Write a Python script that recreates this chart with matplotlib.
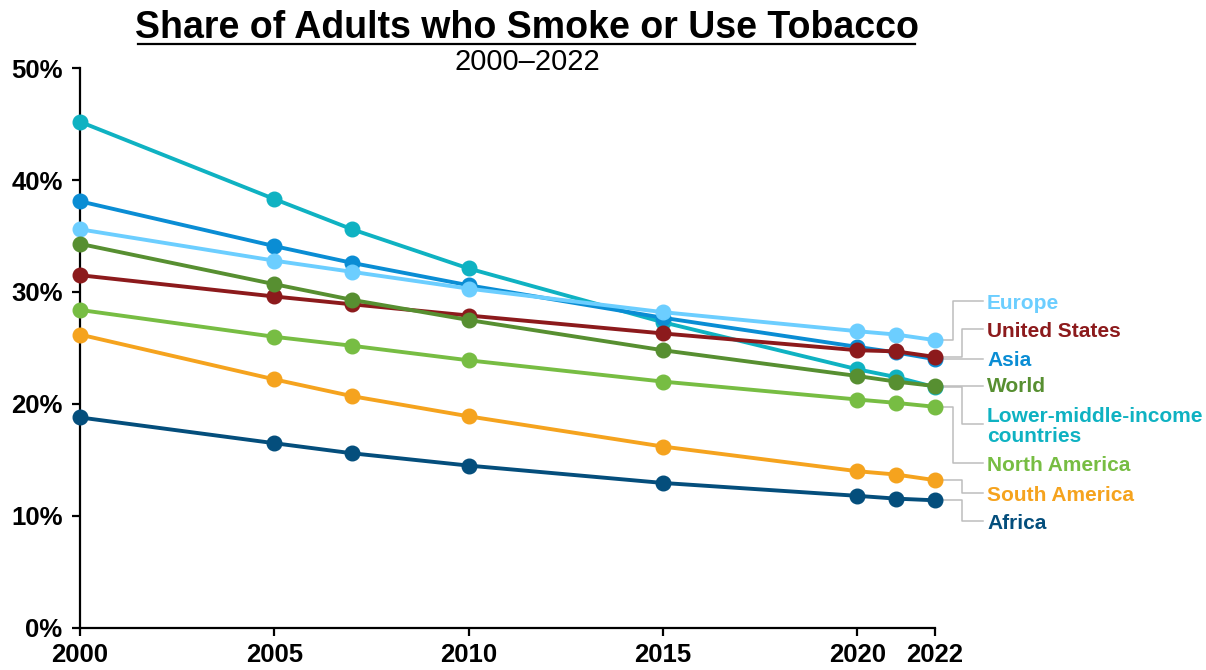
"""
Share of adults who smoke or use tobacco, 2000-2022, by region.
"""

import matplotlib

matplotlib.use("Agg")

import matplotlib.pyplot as plt
from matplotlib.lines import Line2D
from matplotlib.ticker import FuncFormatter


###############################################################################
# Data
###############################################################################

years = [2000, 2005, 2007, 2010, 2015, 2020, 2021, 2022]

lower_middle_income = [45.2, 38.3, 35.6, 32.1, 27.3, 23.1, 22.4, 21.5]
asia = [38.1, 34.1, 32.6, 30.6, 27.7, 25.1, 24.6, 24.0]
europe = [35.6, 32.8, 31.8, 30.3, 28.2, 26.5, 26.2, 25.7]
united_states = [31.5, 29.6, 28.9, 27.9, 26.3, 24.8, 24.7, 24.2]
world = [34.3, 30.7, 29.3, 27.5, 24.8, 22.5, 22.0, 21.6]
north_america = [28.4, 26.0, 25.2, 23.9, 22.0, 20.4, 20.1, 19.75]
south_america = [26.2, 22.2, 20.7, 18.9, 16.2, 14.0, 13.7, 13.2]
africa = [18.8, 16.5, 15.6, 14.5, 12.95, 11.8, 11.55, 11.4]

x_tick_years = [2000, 2005, 2010, 2015, 2020, 2022]


###############################################################################
# Series styling (drawn bottom to top)
# name, values, colour, label y, elbow offset past the last year
###############################################################################

series = [
    ("Lower-middle-income\ncountries", lower_middle_income, "#0FB2C2", 18.2, 0.7),
    ("Asia", asia, "#0A8DD4", 24.1, None),
    ("Europe", europe, "#6CCEFF", 29.2, 0.47),
    ("United States", united_states, "#8C1A1C", 26.7, 0.7),
    ("World", world, "#578F31", 21.8, None),
    ("North America", north_america, "#77BD43", 14.7, 0.47),
    ("South America", south_america, "#F5A31E", 12.05, 0.7),
    ("Africa", africa, "#044E7C", 9.55, 0.7),
]

bold = ["Liberation Sans", "DejaVu Sans"]
narrow = ["Liberation Sans Narrow", "Liberation Sans", "DejaVu Sans"]


###############################################################################
# Figure
###############################################################################

fig = plt.figure(figsize=(12.06, 6.70), dpi=100)

ax = fig.add_axes([0.0663, 0.0627, 0.7090, 0.8358])

last_year = years[-1]

for name, values, color, label_y, elbow in series:

    ax.plot(
        years,
        values,
        color=color,
        linewidth=2.8,
        marker="o",
        markersize=10.5,
        clip_on=False,
        zorder=3,
    )

    end_y = values[-1]
    line_end = last_year + 1.24

    # leader line from the last point to the label
    if elbow is None:
        xs = [last_year + 0.15, line_end]
        ys = [end_y, end_y]
    else:
        xs = [last_year + 0.15, last_year + elbow, last_year + elbow, line_end]
        ys = [end_y, end_y, label_y, label_y]

    ax.plot(
        xs,
        ys,
        color="#BDBDBD",
        linewidth=1.1,
        clip_on=False,
        zorder=1,
    )

    ax.text(
        last_year + 1.34,
        label_y - 0.2,
        name,
        color=color,
        fontsize=15,
        fontweight="bold",
        family=bold,
        va="center",
        ha="left",
        linespacing=1.02,
    )


###############################################################################
# Axes
###############################################################################

ax.set_xlim(2000, 2022)
ax.set_ylim(0, 50)

ax.set_xticks(x_tick_years)
ax.set_yticks(range(0, 51, 10))

ax.yaxis.set_major_formatter(FuncFormatter(lambda v, _: f"{v:.0f}%"))

for side in ("top", "right"):
    ax.spines[side].set_visible(False)

for side in ("left", "bottom"):
    ax.spines[side].set_linewidth(1.6)
    ax.spines[side].set_color("black")

ax.tick_params(
    axis="both",
    direction="out",
    length=6,
    width=1.6,
    color="black",
)

ax.tick_params(axis="x", pad=5)
ax.tick_params(axis="y", pad=6.5)

for label in ax.get_xticklabels() + ax.get_yticklabels():
    label.set_fontfamily(bold)
    label.set_fontweight("bold")
    label.set_fontsize(18.5)


###############################################################################
# Title
###############################################################################

fig.text(
    0.437,
    1 - 38 / 670,
    "Share of Adults who Smoke or Use Tobacco",
    ha="center",
    va="baseline",
    fontsize=27,
    fontweight="bold",
    family=narrow,
)

fig.add_artist(
    Line2D(
        [138 / 1206, 915 / 1206],
        [1 - 44 / 670, 1 - 44 / 670],
        color="black",
        linewidth=1.6,
    )
)

fig.text(
    0.437,
    1 - 70 / 670,
    "2000\u20132022",
    ha="center",
    va="baseline",
    fontsize=21,
    family=narrow,
)

fig.savefig("out.png", dpi=100)
